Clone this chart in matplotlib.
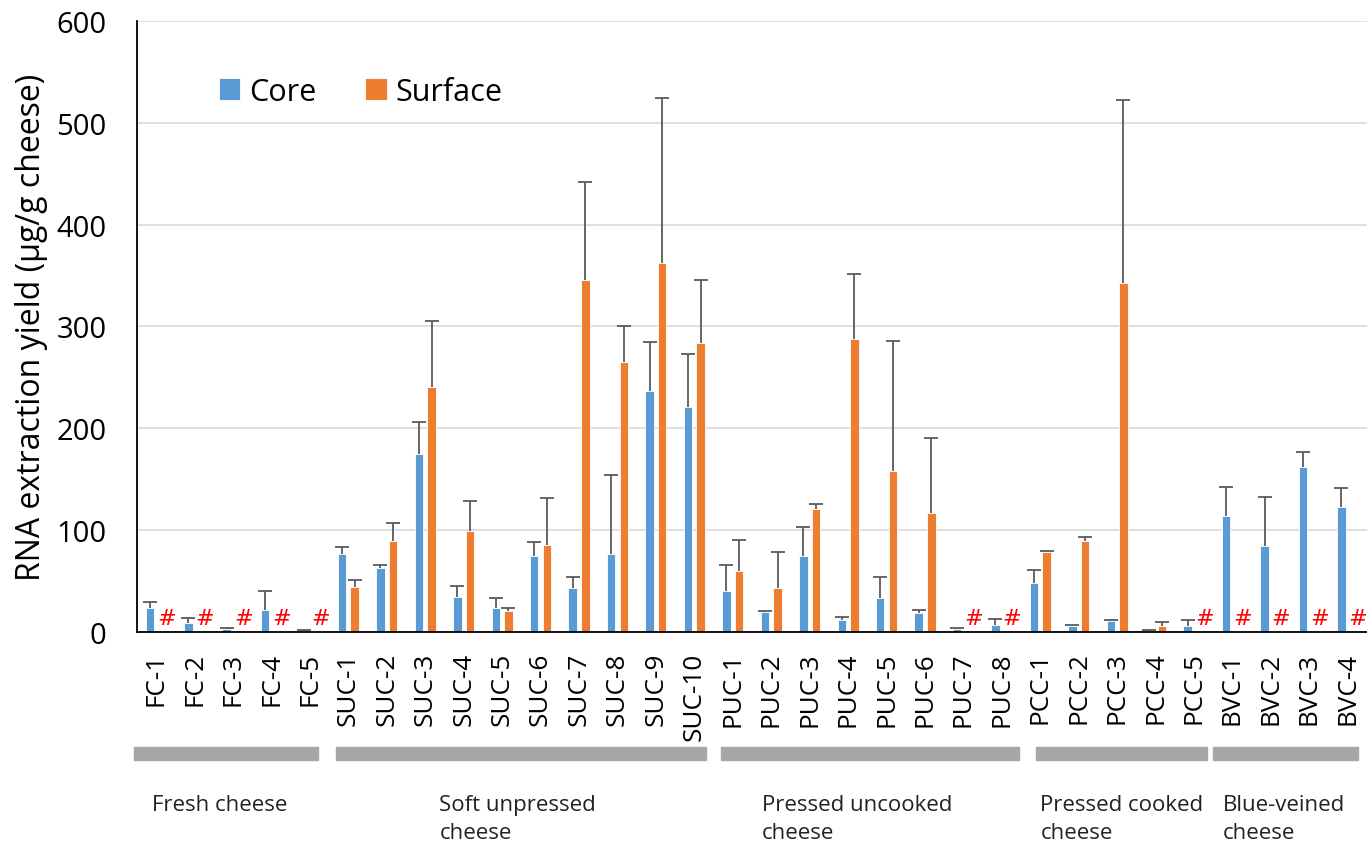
import numpy as np
import matplotlib.pyplot as plt
from matplotlib.patches import Rectangle

plt.rcParams['font.family'] = ['Open Sans', 'DejaVu Sans']

# sample names and groups
samples = ['FC-1', 'FC-2', 'FC-3', 'FC-4', 'FC-5',
           'SUC-1', 'SUC-2', 'SUC-3', 'SUC-4', 'SUC-5', 'SUC-6', 'SUC-7', 'SUC-8', 'SUC-9', 'SUC-10',
           'PUC-1', 'PUC-2', 'PUC-3', 'PUC-4', 'PUC-5', 'PUC-6', 'PUC-7', 'PUC-8',
           'PCC-1', 'PCC-2', 'PCC-3', 'PCC-4', 'PCC-5',
           'BVC-1', 'BVC-2', 'BVC-3', 'BVC-4']

groups = ['Fresh cheese', 'Soft unpressed\ncheese', 'Pressed uncooked\ncheese',
          'Pressed cooked\ncheese', 'Blue-veined\ncheese']

# yields (ug/g cheese) and upper error (sd)
core = [24, 9, 3, 22, 1,
        77, 63, 175, 34, 24, 75, 43, 77, 237, 221,
        40, 20, 75, 12, 33, 19, 3, 7,
        48, 6, 11, 1.3, 5.5,
        114, 84, 162, 123]
core_err = [5, 5, 0.6, 18, 0.7,
            6, 3, 31, 11, 9, 13, 11, 77, 48, 52,
            26, 1, 28, 3, 21, 3, 0.7, 6,
            13, 0.5, 0.6, 0.3, 6.5,
            28, 49, 15, 18]
surface = [np.nan, np.nan, np.nan, np.nan, np.nan,
           44, 89, 241, 99, 21, 85, 346, 265, 362, 284,
           60, 43, 121, 288, 158, 117, np.nan, np.nan,
           79, 89, 343, 5.6, np.nan,
           np.nan, np.nan, np.nan, np.nan]
surface_err = [0, 0, 0, 0, 0,
               7, 18, 64, 30, 2.5, 47, 96, 35, 162, 62,
               30, 36, 5, 64, 128, 73, 0, 0,
               0.5, 4.5, 179, 4.5, 0,
               0, 0, 0, 0]

# group bar spans (in category index units) and label anchors
group_spans = [(-0.58, 4.21), (4.68, 14.3), (14.7, 22.44), (22.9, 27.34), (27.5, 31.27)]
group_text_x = [-0.1, 7.37, 15.75, 23.0, 27.75]

x = np.arange(len(samples))
w = 0.22
off = 0.165
blue = '#5B9BD5'
orange = '#ED7D31'

fig = plt.figure(figsize=(13.67, 8.45), dpi=100)
ax = fig.add_axes([0.1002, 0.2509, 0.8998, 0.7231])

ax.bar(x - off, core, w, color=blue, edgecolor='white', linewidth=0.6, label='Core', zorder=2)
ax.bar(x + off, surface, w, color=orange, edgecolor='white', linewidth=0.6, label='Surface', zorder=2)

# upper-only error bars, no cap at the bar top
for xs, vals, errs in [(x - off, core, core_err), (x + off, surface, surface_err)]:
    vals = np.asarray(vals, dtype=float)
    errs = np.asarray(errs, dtype=float)
    m = ~np.isnan(vals) & (errs > 0)
    eb = ax.errorbar(xs[m], vals[m], yerr=[np.zeros(m.sum()), errs[m]], fmt='none',
                     ecolor='#595959', elinewidth=1.3, capsize=5, capthick=1.3, zorder=3)
    eb[1][0].set_visible(False)

# '#' marks where surface RNA was not extracted
for i, v in enumerate(surface):
    if np.isnan(v):
        ax.text(x[i] + off + 0.1, 14, '#', color='red', fontsize=16,
                ha='center', va='center', family='DejaVu Sans')

ax.set_xlim(-0.5, len(samples) - 0.5)
ax.set_ylim(0, 600)
ax.set_yticks(range(0, 601, 100))
ax.tick_params(axis='y', length=0, labelsize=21, pad=22)
ax.set_xticks(x)
ax.set_xticklabels(samples, rotation=90, fontsize=18.8)
ax.tick_params(axis='x', length=0, pad=14)
ax.yaxis.grid(True, color='#D9D9D9', linewidth=1.2, zorder=0)
ax.set_axisbelow(True)
for s in ['top', 'right']:
    ax.spines[s].set_visible(False)
ax.spines['left'].set_linewidth(1.3)
ax.spines['bottom'].set_linewidth(1.3)
ax.set_ylabel('RNA extraction yield (µg/g cheese)', fontsize=23, labelpad=6)

# legend
ax.legend(loc='center left', bbox_to_anchor=(0.044, 0.884), ncol=2, frameon=False,
          fontsize=22, handlelength=0.7, handleheight=0.7, handletextpad=0.3,
          columnspacing=1.6)

# group bars and labels underneath
tr = ax.get_xaxis_transform()
for (a, b), gx, name in zip(group_spans, group_text_x, groups):
    ax.add_patch(Rectangle((a, -0.210), b - a, 0.022, transform=tr, color='#A6A6A6',
                           clip_on=False))
    ax.text(gx, -0.265, name, transform=tr, fontsize=16, ha='left', va='top',
            linespacing=1.45, color='#222222')

fig.savefig('out.png', dpi=100)
